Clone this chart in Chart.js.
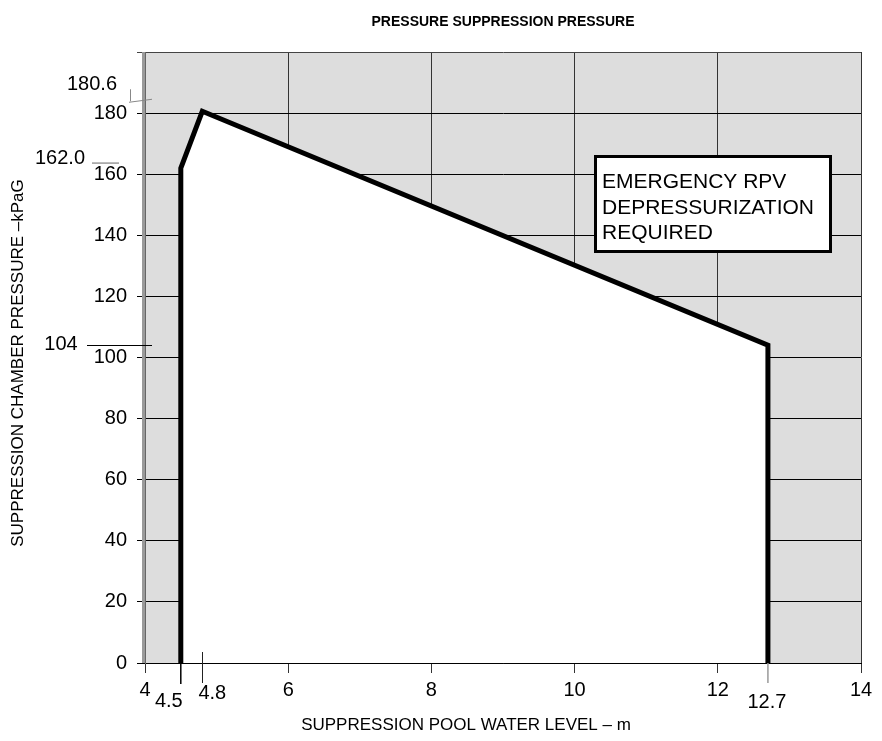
<!DOCTYPE html>
<html>
<head>
<meta charset="utf-8">
<script src="https://cdn.jsdelivr.net/npm/chart.js@4.4.0/dist/chart.umd.min.js"></script>
<style>
  html, body { margin: 0; padding: 0; background: #ffffff; }
  #wrap { width: 882px; height: 741px; position: relative; }
</style>
</head>
<body>
<div id="wrap"><canvas id="c" width="882" height="741"></canvas></div>
<script>
// ---- data ----
const poolLevel = [4.5, 4.5, 4.8, 12.7, 12.7];          // m
const chamberPressure = [0, 162.0, 180.6, 104, 0];      // kPaG
const markedLevels = [4.5, 4.8, 12.7];
const markedLevelLabels = ['4.5', '4.8', '12.7'];
const markedPressures = [180.6, 162.0, 104];
const markedPressureLabels = ['180.6', '162.0', '104'];
const chartTitle = 'PRESSURE SUPPRESSION PRESSURE';
const xTitle = 'SUPPRESSION POOL WATER LEVEL \u2013 m';
const yTitle = 'SUPPRESSION CHAMBER PRESSURE \u2013kPaG';
const boxLines = ['EMERGENCY RPV', 'DEPRESSURIZATION', 'REQUIRED'];

const FONT = 'Liberation Sans, Arial, sans-serif';

const bgPlugin = {
  id: 'bg',
  beforeDraw(chart) {
    const {ctx, chartArea: a} = chart;
    ctx.save();
    ctx.fillStyle = '#dddddd';
    ctx.fillRect(a.left, a.top, a.right - a.left, a.bottom - a.top);
    ctx.restore();
  }
};

const annotPlugin = {
  id: 'annot',
  afterDraw(chart) {
    const {ctx, chartArea: a} = chart;
    const xs = chart.scales.x, ys = chart.scales.y;
    ctx.save();
    ctx.fillStyle = '#000';
    ctx.textBaseline = 'middle';

    // left border stripe
    ctx.fillStyle = '#9a9a9a';
    ctx.fillRect(a.left - 3, a.top, 3, a.bottom - a.top);
    ctx.fillStyle = '#000';

    // pressure marks
    ctx.font = '20px ' + FONT;
    ctx.textAlign = 'center';
    // 180.6
    let py = ys.getPixelForValue(markedPressures[0]);
    ctx.fillText(markedPressureLabels[0], 92, py - 27);
    ctx.strokeStyle = '#888'; ctx.lineWidth = 1;
    ctx.beginPath();
    ctx.moveTo(130.5, py - 22); ctx.lineTo(130.5, py - 10);
    ctx.moveTo(129, py - 9); ctx.lineTo(152, py - 12);
    ctx.stroke();
    // 162.0
    py = ys.getPixelForValue(markedPressures[1]);
    ctx.fillText(markedPressureLabels[1], 60, py - 10);
    ctx.strokeStyle = '#999'; ctx.lineWidth = 1.5;
    ctx.beginPath();
    ctx.moveTo(92, py - 5); ctx.lineTo(119, py - 5);
    ctx.stroke();
    // 104
    py = ys.getPixelForValue(markedPressures[2]);
    ctx.fillText(markedPressureLabels[2], 61, py - 1);
    ctx.strokeStyle = '#000'; ctx.lineWidth = 1;
    ctx.beginPath();
    ctx.moveTo(87, Math.round(py) + 0.5); ctx.lineTo(152, Math.round(py) + 0.5);
    ctx.stroke();

    // level marks
    const b = a.bottom;
    let px = xs.getPixelForValue(markedLevels[0]);
    ctx.strokeStyle = '#000'; ctx.lineWidth = 1.5;
    ctx.beginPath(); ctx.moveTo(px, b); ctx.lineTo(px, b + 21); ctx.stroke();
    ctx.fillText(markedLevelLabels[0], px - 12, b + 38);
    px = xs.getPixelForValue(markedLevels[1]);
    ctx.strokeStyle = '#222'; ctx.lineWidth = 1;
    ctx.beginPath(); ctx.moveTo(Math.round(px) + 0.5, b - 11); ctx.lineTo(Math.round(px) + 0.5, b + 20); ctx.stroke();
    ctx.fillText(markedLevelLabels[1], px + 10, b + 30);
    px = xs.getPixelForValue(markedLevels[2]);
    ctx.strokeStyle = '#999'; ctx.lineWidth = 1.5;
    ctx.beginPath(); ctx.moveTo(px, b); ctx.lineTo(px, b + 20); ctx.stroke();
    ctx.fillText(markedLevelLabels[2], px - 1, b + 39);

    // axis titles
    ctx.font = '17px ' + FONT;
    ctx.fillText(xTitle, 466, 725);
    ctx.save();
    ctx.translate(18, 363);
    ctx.rotate(-Math.PI / 2);
    ctx.fillText(yTitle, 0, 0);
    ctx.restore();

    // box
    const bx = 594, by = 155, bw = 238, bh = 98;
    ctx.fillStyle = '#fff';
    ctx.fillRect(bx, by, bw, bh);
    ctx.strokeStyle = '#000'; ctx.lineWidth = 3;
    ctx.strokeRect(bx + 1.5, by + 1.5, bw - 3, bh - 3);
    ctx.fillStyle = '#000';
    ctx.textAlign = 'left';
    ctx.textBaseline = 'alphabetic';
    ctx.font = '21px ' + FONT;
    boxLines.forEach((t, i) => ctx.fillText(t, 602, 188 + i * 25.5));
    ctx.restore();
  }
};

new Chart(document.getElementById('c'), {
  type: 'line',
  data: {
    datasets: [{
      data: poolLevel.map((x, i) => ({x, y: chamberPressure[i]})),
      borderColor: '#000',
      borderWidth: 5,
      borderJoinStyle: 'miter',
      backgroundColor: '#ffffff',
      fill: 'origin',
      pointRadius: 0,
      tension: 0
    }]
  },
  options: {
    responsive: false,
    animation: false,
    devicePixelRatio: 1,
    layout: { padding: { left: 0, right: 21, top: 0, bottom: 0 } },
    plugins: {
      legend: { display: false },
      tooltip: { enabled: false },
      title: {
        display: true,
        text: chartTitle,
        fullSize: false,
        color: '#000',
        font: { family: FONT, size: 14, weight: 'bold', lineHeight: '14px' },
        padding: { top: 15, bottom: 23 }
      }
    },
    scales: {
      x: {
        type: 'linear',
        min: 4, max: 14,
        z: 1,
        afterFit(s) { s.height = 78; },
        ticks: { stepSize: 2, color: '#000', font: { family: FONT, size: 20 }, padding: 5 },
        grid: {
          color: '#333', lineWidth: 1, tickLength: 10,
          drawOnChartArea: true, drawTicks: true
        },
        border: { display: true, color: '#000', width: 1 }
      },
      y: {
        min: 0, max: 200,
        z: 1,
        afterFit(s) { s.width = 145; },
        ticks: {
          stepSize: 20, color: '#000', font: { family: FONT, size: 20 }, padding: 10,
          callback: v => (v === 200 ? '' : v)
        },
        grid: {
          color: ctx => (ctx.tick && ctx.tick.value === 200 ? '#444' : '#000'),
          lineWidth: 1, tickLength: 8,
          drawTicks: true
        },
        border: { display: true, color: '#666', width: 1 }
      }
    }
  },
  plugins: [bgPlugin, annotPlugin]
});
</script>
</body>
</html>
